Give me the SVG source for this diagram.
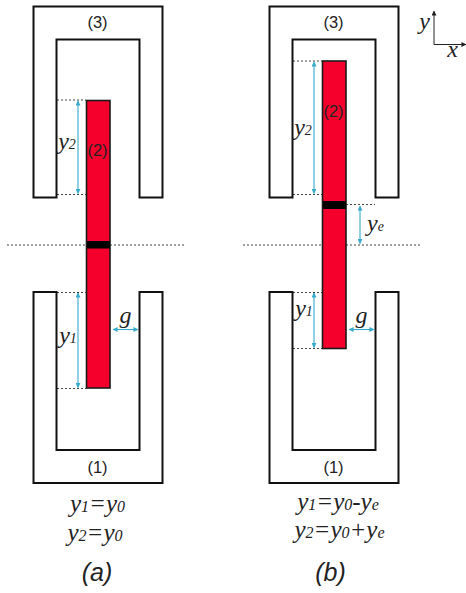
<svg xmlns="http://www.w3.org/2000/svg" width="466" height="593" viewBox="0 0 466 593">
<style>
.u{fill:#fff;stroke:#111;stroke-width:2}
.bar{fill:#f5002d;stroke:#1a1a1a;stroke-width:1.6}
.band{fill:#000}
.dot{fill:none;stroke:#444;stroke-width:1;stroke-dasharray:2 2}
.dim{fill:none;stroke:#35aacb;stroke-width:1.1;marker-start:url(#a);marker-end:url(#a)}
.ax{fill:none;stroke:#222;stroke-width:1;marker-end:url(#k)}
.lbl{font-family:"Liberation Sans",Arial,sans-serif;font-size:16.500px;fill:#222;text-anchor:middle}
.m{font-family:"Liberation Serif","Times New Roman",serif;font-style:italic;font-size:24px;fill:#222;text-anchor:middle}
.s{font-size:14px}
.e{font-size:25px}
.e .s{font-size:16px}
.cap{font-family:"Liberation Sans",Arial,sans-serif;font-style:italic;font-size:25px;fill:#222;text-anchor:middle}
</style>
<defs>
<marker id="a" viewBox="0 0 6 6" refX="5.500" refY="3" markerWidth="5" markerHeight="5" markerUnits="userSpaceOnUse" orient="auto-start-reverse"><path d="M0 0L6 3L0 6z" fill="#35aacb"/></marker>
<marker id="k" viewBox="0 0 6 6" refX="5.500" refY="3" markerWidth="5" markerHeight="5" markerUnits="userSpaceOnUse" orient="auto"><path d="M0 0L6 3L0 6z" fill="#222"/></marker>
</defs>
<g id="connectors">
<path class="dot" d="M7 245H86M110 245H185"/>
<path class="dot" d="M57 100H86M57 194.500H86M57 292.500H86M57 388.500H86"/>
<path class="dim" d="M78 101V193.500"/>
<path class="dim" d="M78 293V387.500"/>
<path class="dim" d="M113 329.500H138"/>
<path class="dot" d="M243 245H322M346 245H421"/>
<path class="dot" d="M293 61H322M293 194.500H322M346 204.500H375M293 292.500H322M293 348.500H322"/>
<path class="dim" d="M314 62V193.500"/>
<path class="dim" d="M360 206V243.500"/>
<path class="dim" d="M314 293V347.500"/>
<path class="dim" d="M349 329.500H374"/>
<path class="ax" d="M434 44.500V11"/>
<path class="ax" d="M434 44.500H466"/>
</g>
<g id="node-a3"><path class="u" d="M33.500 197.500V6.500H162.500V197.500H139.500V39.500H56.500V197.500Z"/><text class="lbl" x="97.500" y="28">(3)</text></g>
<g id="node-a1"><path class="u" d="M33.500 292V483H162.500V292H139.500V450H56.500V292Z"/><text class="lbl" x="97.500" y="472.500">(1)</text></g>
<g id="node-a2"><rect class="bar" x="86.500" y="100.500" width="23.500" height="287.500"/><rect class="band" x="87" y="241" width="23" height="7.500"/><text class="lbl" x="97.500" y="155.500">(2)</text></g>
<g id="node-b3"><path class="u" d="M269.500 197.500V6.500H398.500V197.500H375.500V39.500H292.500V197.500Z"/><text class="lbl" x="333.500" y="28">(3)</text></g>
<g id="node-b1"><path class="u" d="M269.500 292V483H398.500V292H375.500V450H292.500V292Z"/><text class="lbl" x="333.500" y="472.500">(1)</text></g>
<g id="node-b2"><rect class="bar" x="322.500" y="61" width="23.500" height="287.500"/><rect class="band" x="323" y="201" width="23" height="8"/><text class="lbl" x="333.500" y="116.500">(2)</text></g>
<g id="labels">
<text class="m" x="67" y="149">y<tspan class="s">2</tspan></text>
<text class="m" x="68" y="343">y<tspan class="s">1</tspan></text>
<text class="m" x="125.500" y="323">g</text>
<text class="m" x="303" y="135">y<tspan class="s">2</tspan></text>
<text class="m" x="304" y="316">y<tspan class="s">1</tspan></text>
<text class="m" x="375.500" y="231">y<tspan class="s">e</tspan></text>
<text class="m" x="361.500" y="323">g</text>
<text class="m" x="424.500" y="29">y</text>
<text class="m" x="452.500" y="57">x</text>
<text class="m e" x="97.500" y="512">y<tspan class="s">1</tspan>=y<tspan class="s">0</tspan></text>
<text class="m e" x="95" y="541">y<tspan class="s">2</tspan>=y<tspan class="s">0</tspan></text>
<text class="m e" x="338" y="510">y<tspan class="s">1</tspan>=y<tspan class="s">0</tspan>-y<tspan class="s">e</tspan></text>
<text class="m e" x="339.500" y="538">y<tspan class="s">2</tspan>=y<tspan class="s">0</tspan>+y<tspan class="s">e</tspan></text>
<text class="cap" x="97" y="581">(a)</text>
<text class="cap" x="330.500" y="581">(b)</text>
</g>
</svg>
